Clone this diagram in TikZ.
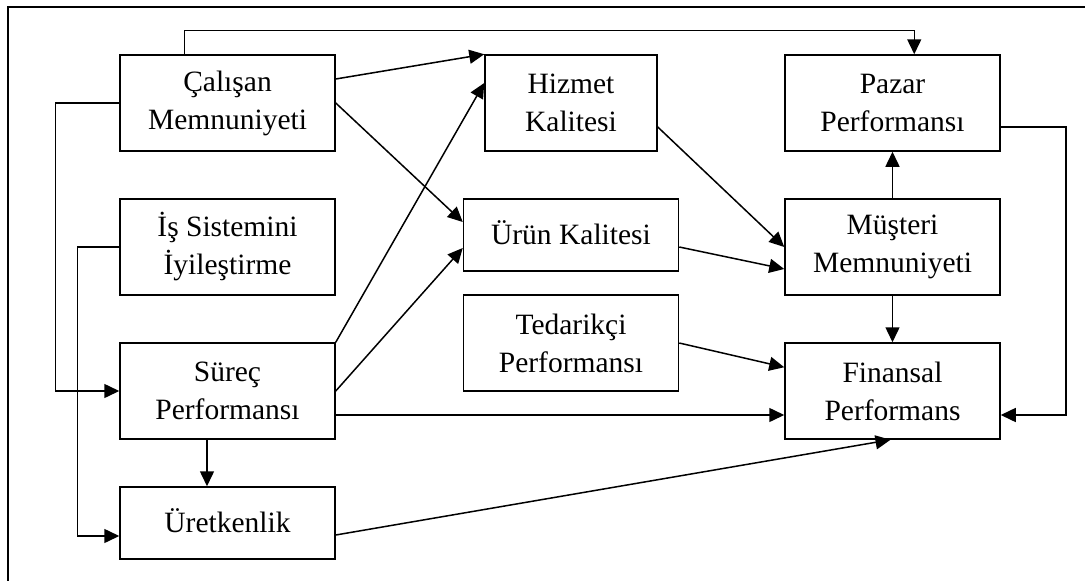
\documentclass[tikz,border=0pt]{standalone}
\usepackage{fontspec}
\setmainfont{Liberation Serif}
\usetikzlibrary{arrows.meta,calc}
\begin{document}
\begin{tikzpicture}[x=1pt,y=-1pt,
  box/.style={draw,line width=1.5pt,inner sep=0pt,align=center,
    font=\fontsize{29.5}{38}\selectfont,minimum width=215pt,minimum height=96pt},
  flat/.style={minimum height=72pt},
  arr/.style={line width=1.5pt,-{Triangle[length=15pt,width=14pt]}},
  wire/.style={line width=1.5pt}]
\useasboundingbox (0,0) rectangle (1085,581);
% outer frame (top and left edges)
\draw[wire] (8,581) -- (8,7) -- (1085,7);

% left column
\node[box] (cal) at (227.5,103) {Çalışan\\Memnuniyeti};
\node[box] (is)  at (227.5,247) {İş Sistemini\\İyileştirme};
\node[box] (sur) at (227.5,391) {Süreç\\Performansı};
\node[box,flat] (ure) at (227.5,523) {\raisebox{5pt}{Üretkenlik}};

% middle column
\node[box,minimum width=172pt] (hiz) at (571,103) {Hizmet\\Kalitesi};
\node[box,flat] (urun) at (571,235) {\raisebox{5pt}{Ürün Kalitesi}};
\node[box] (ted) at (571,343) {Tedarikçi\\Performansı};

% right column
\node[box] (paz) at (892.5,103) {Pazar\\Performansı};
\node[box] (mus) at (892.5,247) {Müşteri\\Memnuniyeti};
\node[box] (fin) at (892.5,391) {Finansal\\Performans};

% connectors
\draw[arr] ([xshift=65pt]cal.north west) -- ++(0,-24) -| ([xshift=130pt]paz.north west);
\draw[arr] ([yshift=24pt]cal.east) -- (hiz.north west);
\draw[arr] (cal.east) -- ([yshift=13pt]urun.west);
\draw[arr] (cal.west) -- ++(-64,0) |- (sur.west);
\draw[arr] (is.west) -- ++(-42,0) |- ([yshift=-13pt]ure.west);
\draw[arr] (sur.north east) -- ([yshift=20pt]hiz.west);
\draw[arr] (sur.east) -- ([yshift=-13pt]urun.west);
\draw[arr] ([yshift=-24pt]sur.east) -- ([yshift=-24pt]fin.west);
\draw[arr] ([xshift=-20.5pt]sur.south) -- ([xshift=-20.5pt]ure.north);
\draw[arr] ([yshift=-12pt]ure.east) -- ([xshift=-2pt]fin.south);
\draw[arr] ([yshift=-24pt]hiz.east) -- (mus.west);
\draw[arr] ([yshift=-12pt]urun.east) -- ([yshift=-22pt]mus.west);
\draw[arr] (mus.north) -- (paz.south);
\draw[arr] (mus.south) -- (fin.north);
\draw[arr] (ted.east) -- ([yshift=-25pt]fin.north west);
\draw[arr] ([yshift=-24pt]paz.east) -- ++(65,0) |- ([yshift=-24pt]fin.east);
\end{tikzpicture}
\end{document}
